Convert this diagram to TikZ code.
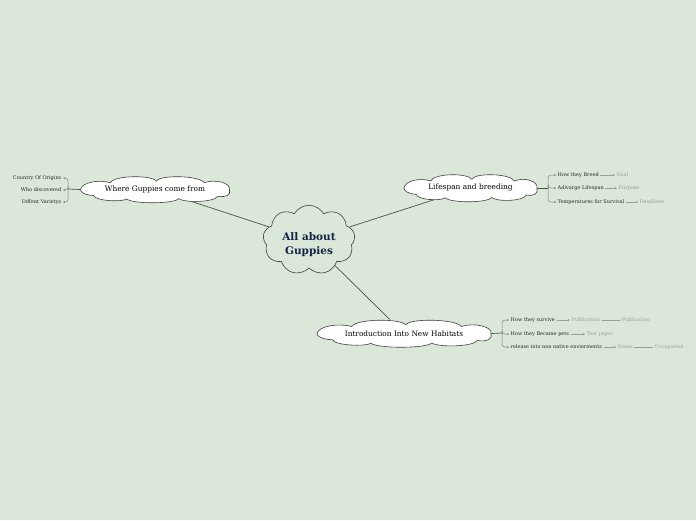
\documentclass[tikz,border=0pt]{standalone}
\usepackage{fontspec}
\setmainfont{DejaVu Serif}
\usepackage{tikz}
\usetikzlibrary{arrows.meta,shapes.symbols,shapes.geometric,backgrounds}
\definecolor{bgG}{RGB}{219,231,216}
\definecolor{lnk}{RGB}{70,84,70}
\definecolor{brn}{RGB}{120,136,120}
\definecolor{faint}{RGB}{148,162,148}
\definecolor{navy}{RGB}{20,34,70}
% flat cloud outline round a topic node: name, half width, half height
\newcommand\flatcloud[3]{%
  \begin{scope}[on background layer,shift={(#1.center)},x=#2pt,y=-#3pt]
    \draw[cloudline] (-1,0) .. controls (-0.98,-0.55) and (-0.75,-0.75) .. (-0.6,-0.5)
      .. controls (-0.55,-1.05) and (-0.05,-1.1) .. (0.02,-0.62)
      .. controls (0.06,-1.1) and (0.6,-1.05) .. (0.66,-0.5)
      .. controls (0.8,-0.8) and (1.02,-0.5) .. (1,0)
      .. controls (1.02,0.4) and (0.96,0.6) .. (0.84,0.5)
      .. controls (0.8,0.95) and (0.4,1.0) .. (0.32,0.68)
      .. controls (0.25,1.08) and (-0.3,1.08) .. (-0.38,0.7)
      .. controls (-0.45,0.95) and (-0.8,0.85) .. (-0.82,0.45)
      .. controls (-0.95,0.4) and (-1.0,0.2) .. cycle;
  \end{scope}}

\begin{document}
\begin{tikzpicture}[
  x=1pt,y=-1pt,
  cloudline/.style={draw=black!75,fill=white,line width=0.6pt},
  topic/.style={ellipse,inner sep=0pt,font=\fontsize{7.4}{8}\selectfont,text=black},
  hub/.style={cloud,draw=black!75,fill=bgG,line width=0.6pt,cloud puffs=9,cloud puff arc=120,
    aspect=1.3,inner sep=0pt,minimum width=92pt,minimum height=68pt,text=navy,
    font=\fontsize{10.5}{14}\selectfont\bfseries},
  sub/.style={inner sep=1.5pt,font=\fontsize{5}{6}\selectfont,text=black!85},
  note/.style={inner sep=1.5pt,font=\fontsize{5}{6}\selectfont,text=faint},
  link/.style={lnk,line width=0.7pt},
  brch/.style={-{Stealth[length=2pt,width=2pt]},brn,line width=0.5pt,rounded corners=3pt},
  nt/.style={-{Stealth[length=2pt,width=2pt]},faint,line width=0.5pt},
  ntl/.style={faint,line width=0.5pt}
]
  \useasboundingbox (0,0) rectangle (696,520);
  \begin{scope}[on background layer]
    \fill[bgG] (0,0) rectangle (696,520);
  \end{scope}
  % ---------------- main ----------------
  \node[hub] (hub) at (309,240)
    {\raisebox{-7.5pt}[0pt][0pt]{\begin{tabular}{@{}c@{}}All about\\Guppies\end{tabular}}};
  \node[topic,minimum width=149pt,minimum height=27pt] (where) at (155,189.5) {Where Guppies come from};
  \node[topic,minimum width=133pt,minimum height=28pt] (life) at (470.5,188) {Lifespan and breeding};
  \node[topic,minimum width=174pt,minimum height=28pt] (intro) at (404,333.5) {Introduction Into New Habitats};
  \flatcloud{where}{74.5}{13.5}
  \flatcloud{life}{66.5}{14}
  \flatcloud{intro}{87}{14}
  \draw[link] (hub) -- (where);
  \draw[link] (hub) -- (life);
  \draw[link] (hub) -- (intro);
  % ---------------- left ----------------
  \coordinate (lj) at (68,189);
  \node[sub,anchor=east] (orig) at (63,178) {Country Of Origins};
  \node[sub,anchor=east] (disc) at (63,190) {Who discovered};
  \node[sub,anchor=east] (vari) at (63,202) {Diffent Varietys};
  \draw[link] (where.west) -- (lj);
  \foreach \n in {orig,disc,vari}{\draw[brch] (lj) |- (\n.east);}
  % ---------------- right ----------------
  \coordinate (rj) at (548,188);
  \node[sub,anchor=west] (breed) at (556,175) {How they Breed};
  \node[sub,anchor=west] (span) at (556,188) {Adivarge Lifespan};
  \node[sub,anchor=west] (temp) at (556,202) {Temperatures for Survival};
  \node[note,anchor=west] (goal) at (615,175) {Goal};
  \node[note,anchor=west] (purp) at (617,188) {Purpose};
  \node[note,anchor=west] (dead) at (638,202) {Deadlines};
  \draw[link] (life.east) -- (rj);
  \foreach \n in {breed,span,temp}{\draw[brch] (rj) |- (\n.west);}
  \draw[nt] (breed) -- (goal);
  \draw[nt] (span) -- (purp);
  \draw[nt] (temp) -- (dead);
  % ---------------- bottom ----------------
  \coordinate (bj) at (502,333);
  \node[sub,anchor=west] (surv) at (509,320) {How they survive};
  \node[sub,anchor=west] (pets) at (509,334) {How they Became pets};
  \node[sub,anchor=west] (rel) at (509,347) {release into non native enviorments};
  \node[note,anchor=west] (pub1) at (570,320) {Publication};
  \node[note,anchor=west] (pub2) at (620,320) {Publication};
  \node[note,anchor=west] (test) at (585,334) {Test paper};
  \node[note,anchor=west] (name) at (616,347) {Name};
  \node[note,anchor=west] (occ) at (653,347) {Occupation};
  \draw[link] (intro.east) -- (bj);
  \foreach \n in {surv,pets,rel}{\draw[brch] (bj) |- (\n.west);}
  \draw[nt] (surv) -- (pub1);
  \draw[ntl] (pub1) -- (pub2);
  \draw[nt] (pets) -- (test);
  \draw[nt] (rel) -- (name);
  \draw[ntl] (name) -- (occ);
\end{tikzpicture}
\end{document}
